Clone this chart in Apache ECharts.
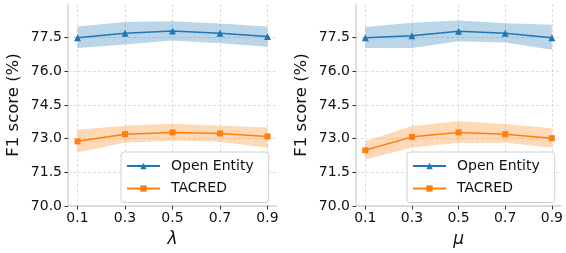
<!DOCTYPE html>
<html><head><meta charset="utf-8">
<script src="https://cdn.jsdelivr.net/npm/echarts@6/dist/echarts.min.js"></script>
<style>html,body{margin:0;padding:0;background:#fff}#c{width:566px;height:253px}</style>
</head><body><div id="c"></div>
<script>
const xs = [0.1, 0.3, 0.5, 0.7, 0.9];
const xTicks = [0.1, 0.3, 0.5, 0.7, 0.9];
const yTicks = [70.0, 71.5, 73.0, 74.5, 76.0, 77.5];
const xNames = ['λ', 'μ'];
// Left panel (lambda)
const oeL = [77.50, 77.70, 77.80, 77.70, 77.55];
const oeLlo = [77.04, 77.20, 77.37, 77.25, 77.10];
const oeLhi = [78.00, 78.20, 78.23, 78.13, 78.00];
const tcL = [72.88, 73.20, 73.28, 73.23, 73.10];
const tcLlo = [72.38, 72.82, 72.92, 72.86, 72.60];
const tcLhi = [73.40, 73.58, 73.66, 73.58, 73.50];
// Right panel (mu)
const oeR = [77.50, 77.59, 77.79, 77.70, 77.50];
const oeRlo = [77.04, 77.04, 77.34, 77.28, 76.96];
const oeRhi = [77.98, 78.16, 78.27, 78.14, 78.07];
const tcR = [72.48, 73.08, 73.28, 73.20, 73.02];
const tcRlo = [72.07, 72.61, 72.82, 72.82, 72.60];
const tcRhi = [72.89, 73.56, 73.78, 73.65, 73.46];

const BLUE = '#1f77b4', ORANGE = '#ff7f0e';
const FONT = 'DejaVu Sans';
const grids = [
  {left: 68, right: 289, top: 4, bottom: 43},
  {left: 356, right: 3, top: 4, bottom: 43}
];
const panels = [
  {oe: oeL, oeLo: oeLlo, oeHi: oeLhi, tc: tcL, tcLo: tcLlo, tcHi: tcLhi},
  {oe: oeR, oeLo: oeRlo, oeHi: oeRhi, tc: tcR, tcLo: tcRlo, tcHi: tcRhi}
];
const pair = (arr) => xs.map((x, i) => [x, arr[i]]);

function bandSeries(k, lo, hi, color) {
  const data = xs.map((x, i) => [x, lo[i], hi[i]]);
  return {
    type: 'custom', xAxisIndex: k, yAxisIndex: k, silent: true, z: 1,
    encode: {x: 0, y: [1, 2]},
    data,
    renderItem: (params, api) => {
      if (params.dataIndex !== 0) return null;
      const pts = [];
      for (let i = 0; i < data.length; i++) pts.push(api.coord([data[i][0], data[i][2]]));
      for (let i = data.length - 1; i >= 0; i--) pts.push(api.coord([data[i][0], data[i][1]]));
      return {type: 'polygon', shape: {points: pts}, style: {fill: color, stroke: null}};
    }
  };
}

const xAxis = [], yAxis = [], series = [], legend = [];
panels.forEach((p, k) => {
  xAxis.push({
    type: 'value', gridIndex: k, min: 0.06, max: 0.94,
    name: xNames[k], nameLocation: 'middle', nameGap: 25,
    nameTextStyle: {fontFamily: FONT, fontSize: 17, fontStyle: 'italic', color: '#111'},
    axisLine: {show: true, onZero: false, lineStyle: {color: '#d4d4d4', width: 1.5}},
    axisTick: {show: true, customValues: xTicks, length: 3.5, lineStyle: {color: '#333', width: 1}},
    axisLabel: {customValues: xTicks, fontFamily: FONT, fontSize: 14, color: '#111', margin: 5,
      formatter: v => v.toFixed(1)},
    splitLine: {show: true, lineStyle: {color: '#d6d6d6', type: [3, 2], width: 0.8}}
  });
  yAxis.push({
    type: 'value', gridIndex: k, min: 70, max: 79,
    name: 'F1 score (%)', nameLocation: 'middle', nameGap: 46, nameRotate: 90,
    nameTextStyle: {fontFamily: FONT, fontSize: 16.5, color: '#111'},
    axisLine: {show: true, lineStyle: {color: '#d4d4d4', width: 1.5}},
    axisTick: {show: true, customValues: yTicks, length: 3.5, lineStyle: {color: '#333', width: 1}},
    axisLabel: {customValues: yTicks, fontFamily: FONT, fontSize: 14, color: '#111', margin: 6,
      formatter: v => v.toFixed(1)},
    splitLine: {show: true, lineStyle: {color: '#d6d6d6', type: [3, 2], width: 0.8}}
  });
  series.push(bandSeries(k, p.oeLo, p.oeHi, 'rgba(31,119,180,0.3)'));
  series.push(bandSeries(k, p.tcLo, p.tcHi, 'rgba(255,127,14,0.3)'));
  series.push({
    type: 'line', name: 'Open Entity', xAxisIndex: k, yAxisIndex: k,
    data: pair(p.oe), symbol: 'triangle', symbolSize: 7, color: BLUE,
    lineStyle: {color: BLUE, width: 1.5}, itemStyle: {color: BLUE}, z: 3
  });
  series.push({
    type: 'line', name: 'TACRED', xAxisIndex: k, yAxisIndex: k,
    data: pair(p.tc), symbol: 'rect', symbolSize: 6, color: ORANGE,
    lineStyle: {color: ORANGE, width: 1.5}, itemStyle: {color: ORANGE}, z: 3
  });
  legend.push({
    data: ['Open Entity', 'TACRED'], orient: 'vertical',
    left: k === 0 ? 121 : 407, top: 152,
    padding: [7, 15, 7, 5],
    itemWidth: 33, itemHeight: 8, itemGap: 8.5,
    backgroundColor: 'rgba(255,255,255,0.85)',
    borderColor: '#d0d0d0', borderWidth: 1, borderRadius: 3,
    selectedMode: false,
    textStyle: {fontFamily: FONT, fontSize: 14, color: '#111', padding: [0, 0, 0, 6]},
    z: 10
  });
});

const chart = echarts.init(document.getElementById('c'), null, {renderer: 'canvas'});
chart.setOption({
  animation: false,
  grid: grids,
  xAxis, yAxis, series, legend
});
</script></body></html>
